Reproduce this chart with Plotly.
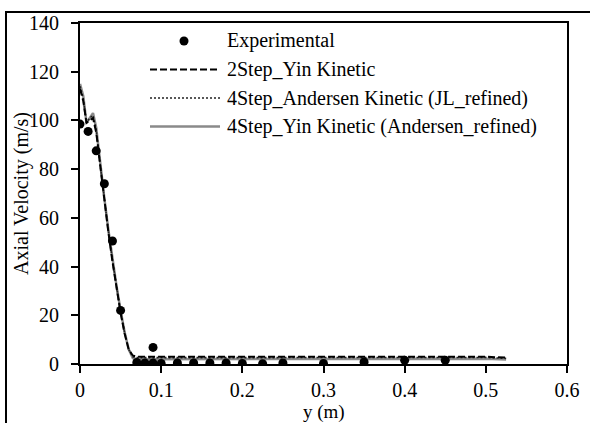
import plotly.graph_objects as go

# ---------------- data ----------------
exp_x = [0, 0.01, 0.02, 0.03, 0.04, 0.05, 0.07, 0.08, 0.09, 0.09, 0.10, 0.12, 0.14,
         0.16, 0.18, 0.20, 0.225, 0.25, 0.30, 0.35, 0.40, 0.45]
exp_y = [98.5, 95.5, 87.5, 74, 50.5, 22, 0.6, 0.4, 6.8, 0.4, 0.2, 0.4, 0.4,
         0.4, 0.4, 0.2, 0.1, 0.4, 0.2, 0.8, 1.5, 1.5]

yin2_x = [0, 0.004, 0.008, 0.012, 0.016, 0.02, 0.025, 0.03, 0.035, 0.04, 0.045,
          0.05, 0.055, 0.06, 0.065, 0.07, 0.1, 0.15, 0.2, 0.25, 0.3, 0.35, 0.4, 0.45, 0.5, 0.525]
yin2_y = [113, 108, 99, 100, 101, 95, 81, 67, 54, 42, 31, 21, 12.5, 6, 3.5, 3, 3, 3, 3, 3,
          3, 3, 3, 3, 3, 2.6]

and4_x = [0, 0.004, 0.008, 0.012, 0.016, 0.02, 0.025, 0.03, 0.035, 0.04, 0.045,
          0.05, 0.055, 0.06, 0.065, 0.07, 0.1, 0.15, 0.2, 0.25, 0.3, 0.35, 0.4, 0.45, 0.5, 0.525]
and4_y = [114, 109, 99, 101, 102, 96, 81.5, 67.5, 54.5, 42.5, 31.5, 21.5, 12.8, 6, 3, 2.6,
          2.6, 2.6, 2.6, 2.6, 2.6, 2.7, 2.8, 2.8, 2.7, 2.3]

yin4_x = [0, 0.004, 0.008, 0.012, 0.016, 0.02, 0.025, 0.03, 0.035, 0.04, 0.045,
          0.05, 0.055, 0.06, 0.065, 0.07, 0.1, 0.15, 0.2, 0.25, 0.3, 0.35, 0.4, 0.45, 0.5, 0.525]
yin4_y = [115, 110, 99, 101, 103, 97, 82, 68, 55, 43, 32, 22, 13, 6, 2.5, 2,
          2, 2, 2, 2, 2, 2.1, 2.2, 2.2, 2.2, 1.8]

legend_names = ["Experimental", "2Step_Yin Kinetic",
                "4Step_Andersen Kinetic (JL_refined)",
                "4Step_Yin Kinetic (Andersen_refined)"]

x_ticks = [0, 0.1, 0.2, 0.3, 0.4, 0.5, 0.6]
x_tick_text = ["0", "0.1", "0.2", "0.3", "0.4", "0.5", "0.6"]
y_ticks = [0, 20, 40, 60, 80, 100, 120, 140]

FONT = "Liberation Serif, Times New Roman, serif"
GRAY = "#8a8a8a"

fig = go.Figure()
fig.add_trace(go.Scatter(x=yin4_x, y=yin4_y, mode="lines", showlegend=False,
                         line=dict(color=GRAY, width=2.5), name=legend_names[3]))
fig.add_trace(go.Scatter(x=and4_x, y=and4_y, mode="lines", showlegend=False,
                         line=dict(color="#222222", width=1.6, dash="2px,2px"), name=legend_names[2]))
fig.add_trace(go.Scatter(x=yin2_x, y=yin2_y, mode="lines", showlegend=False,
                         line=dict(color="#000000", width=2, dash="7px,3px"), name=legend_names[1]))
fig.add_trace(go.Scatter(x=exp_x, y=exp_y, mode="markers", showlegend=False,
                         marker=dict(color="#000000", size=9), name=legend_names[0]))

# plot-area geometry (pixels) used for the hand-drawn legend
L, R, T, B = 80, 567, 23, 364
W, H = 590, 423
def px(x):
    return (x - L) / (R - L)
def py(y):
    return (B - y) / (B - T)

shapes = []
annotations = []
rows = [41, 69.5, 98, 126.5]
styles = [None,
          dict(color="#000000", width=2, dash="7px,3px"),
          dict(color="#222222", width=1.6, dash="2px,2px"),
          dict(color=GRAY, width=2.5)]
for name, ry, st in zip(legend_names, rows, styles):
    if st is None:
        shapes.append(dict(type="circle", xref="paper", yref="paper",
                           xsizemode="pixel", ysizemode="pixel",
                           xanchor=px(184), yanchor=py(ry),
                           x0=-4.5, x1=4.5, y0=-4.5, y1=4.5,
                           fillcolor="#000000", line=dict(width=0)))
    else:
        shapes.append(dict(type="line", xref="paper", yref="paper",
                           x0=px(150), x1=px(220), y0=py(ry), y1=py(ry), line=st))
    annotations.append(dict(xref="paper", yref="paper", x=px(225), y=py(ry),
                            xanchor="left", yanchor="middle", showarrow=False,
                            text=name, font=dict(family=FONT, size=20, color="#000000")))

# axis titles
annotations.append(dict(xref="paper", yref="paper", x=px((L + R) / 2), y=py(412),
                        xanchor="center", yanchor="middle", showarrow=False,
                        text="y (m)", font=dict(family=FONT, size=19, color="#000000")))
annotations.append(dict(xref="paper", yref="paper", x=px(21), y=py(194),
                        xanchor="center", yanchor="middle", showarrow=False, textangle=-90,
                        text="Axial Velocity (m/s)", font=dict(family=FONT, size=20, color="#000000")))

# outer chart border (left and top visible; extends past right/bottom edges)
shapes.append(dict(type="rect", xref="paper", yref="paper",
                   x0=px(6), x1=px(600), y0=py(440), y1=py(12),
                   line=dict(color="#000000", width=2), layer="above"))

fig.update_layout(
    width=W, height=H,
    margin=dict(l=L, r=W - R, t=T, b=H - B, autoexpand=False),
    paper_bgcolor="white", plot_bgcolor="white",
    font=dict(family=FONT, size=20, color="#000000"),
    shapes=shapes, annotations=annotations,
    xaxis=dict(range=[0, 0.6], tickvals=x_ticks, ticktext=x_tick_text, automargin=False,
               showgrid=False, zeroline=False, showline=True, mirror=True,
               linecolor="#000000", linewidth=2, ticks="outside", ticklen=7,
               tickwidth=2, tickcolor="#000000", ticklabelstandoff=0),
    yaxis=dict(range=[0, 140], tickvals=y_ticks, automargin=False,
               showgrid=False, zeroline=False, showline=True, mirror=True,
               linecolor="#000000", linewidth=2, ticks="outside", ticklen=7,
               tickwidth=2, tickcolor="#000000", ticklabelstandoff=8),
)

fig.write_html("out.html")
